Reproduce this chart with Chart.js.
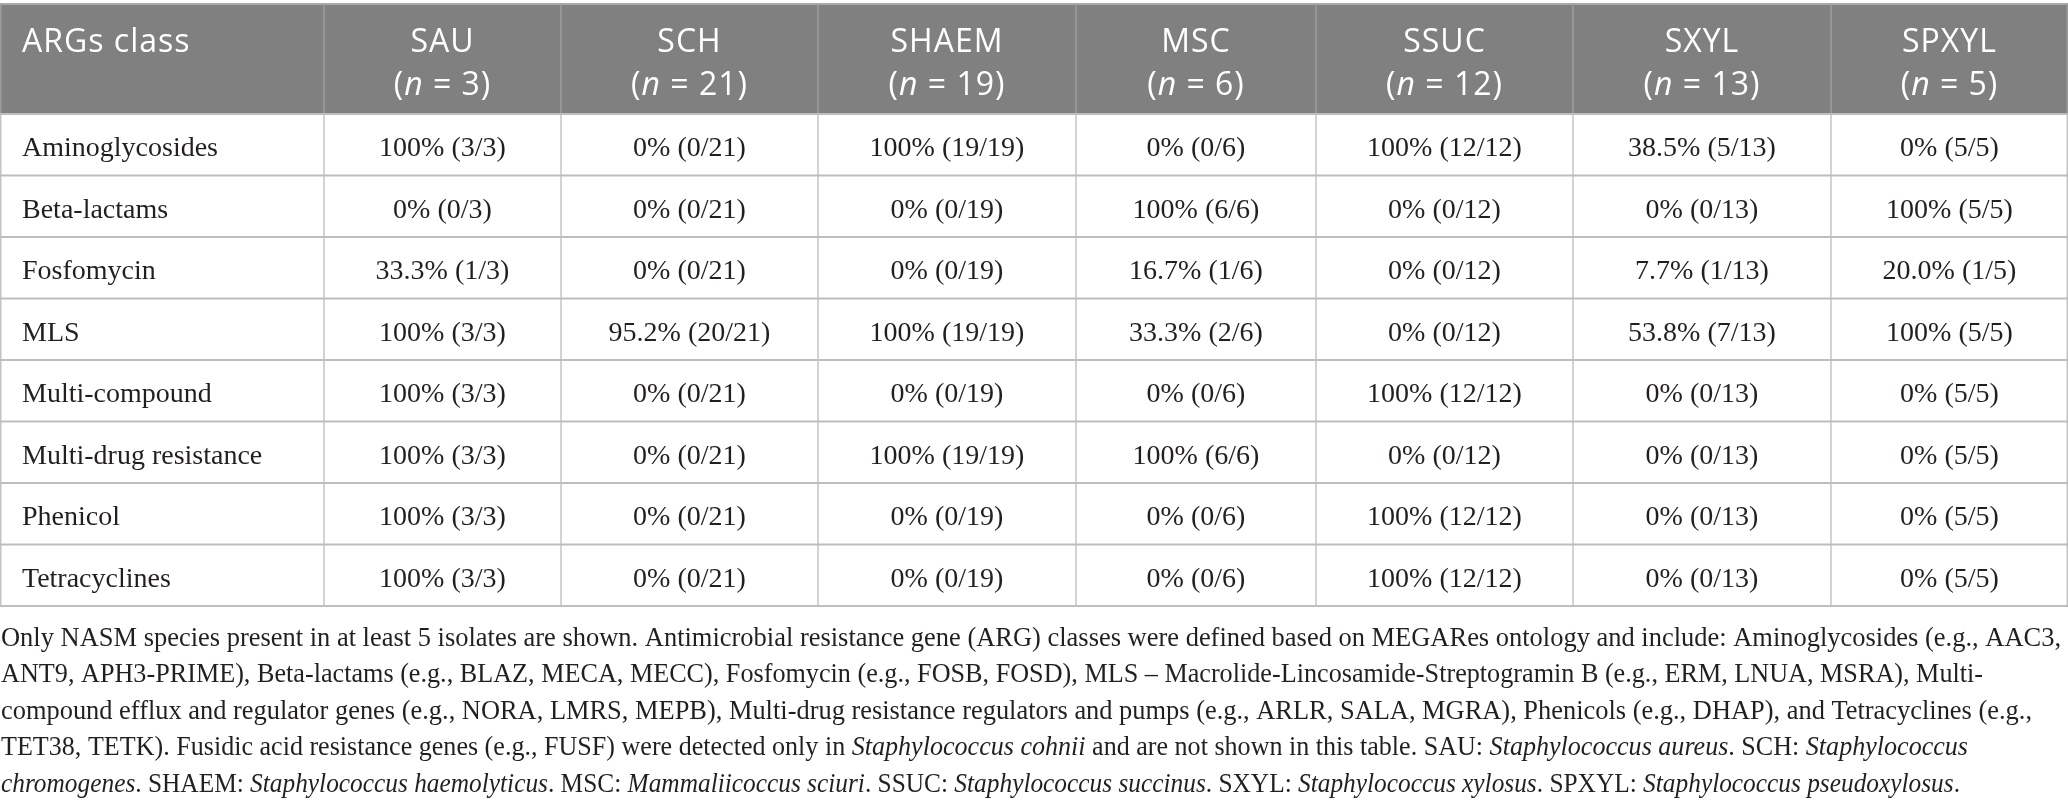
<!DOCTYPE html>
<html>
<head>
<meta charset="utf-8">
<script src="https://cdn.jsdelivr.net/npm/chart.js@4.4.1/dist/chart.umd.min.js"></script>
<style>
    html, body { margin: 0; padding: 0; background: #fff; }
    #wrap { width: 2068px; height: 808px; }
</style>
</head>
<body>
<div id="wrap"><canvas id="table" width="2068" height="808"></canvas></div>
<script>
// rows and columns of the table
var argClasses = ["Aminoglycosides", "Beta-lactams", "Fosfomycin", "MLS", "Multi-compound",
    "Multi-drug resistance", "Phenicol", "Tetracyclines"];
var species = ["SAU", "SCH", "SHAEM", "MSC", "SSUC", "SXYL", "SPXYL"];
var isolates = [3, 21, 19, 6, 12, 13, 5];

// % of isolates with the class, one array per row, in species order
var pctAminoglycosides = [100, 0, 100, 0, 100, 38.5, 0];
var pctBetaLactams = [0, 0, 0, 100, 0, 0, 100];
var pctFosfomycin = [33.3, 0, 0, 16.7, 0, 7.7, 20.0];
var pctMLS = [100, 95.2, 100, 33.3, 0, 53.8, 100];
var pctMultiCompound = [100, 0, 0, 0, 100, 0, 0];
var pctMultiDrug = [100, 0, 100, 100, 0, 0, 0];
var pctPhenicol = [100, 0, 0, 0, 100, 0, 0];
var pctTetracyclines = [100, 0, 0, 0, 100, 0, 0];

// positive isolates as printed (numerator of the fraction)
var posAminoglycosides = [3, 0, 19, 0, 12, 5, 5];
var posBetaLactams = [0, 0, 0, 6, 0, 0, 5];
var posFosfomycin = [1, 0, 0, 1, 0, 1, 1];
var posMLS = [3, 20, 19, 2, 0, 7, 5];
var posMultiCompound = [3, 0, 0, 0, 12, 0, 5];
var posMultiDrug = [3, 0, 19, 6, 0, 0, 5];
var posPhenicol = [3, 0, 0, 0, 12, 0, 5];
var posTetracyclines = [3, 0, 0, 0, 12, 0, 5];

var pctRows = [pctAminoglycosides, pctBetaLactams, pctFosfomycin, pctMLS, pctMultiCompound,
    pctMultiDrug, pctPhenicol, pctTetracyclines];
var posRows = [posAminoglycosides, posBetaLactams, posFosfomycin, posMLS, posMultiCompound,
    posMultiDrug, posPhenicol, posTetracyclines];

// footnote, one entry per printed line, *...* = italic
var footnote = [
    "Only NASM species present in at least 5 isolates are shown. Antimicrobial resistance gene (ARG) classes were defined based on MEGARes ontology and include: Aminoglycosides (e.g., AAC3,",
    "ANT9, APH3-PRIME), Beta-lactams (e.g., BLAZ, MECA, MECC), Fosfomycin (e.g., FOSB, FOSD), MLS \u2013 Macrolide-Lincosamide-Streptogramin B (e.g., ERM, LNUA, MSRA), Multi-",
    "compound efflux and regulator genes (e.g., NORA, LMRS, MEPB), Multi-drug resistance regulators and pumps (e.g., ARLR, SALA, MGRA), Phenicols (e.g., DHAP), and Tetracyclines (e.g.,",
    "TET38, TETK). Fusidic acid resistance genes (e.g., FUSF) were detected only in *Staphylococcus cohnii* and are not shown in this table. SAU: *Staphylococcus aureus*. SCH: *Staphylococcus*",
    "*chromogenes*. SHAEM: *Staphylococcus haemolyticus*. MSC: *Mammaliicoccus sciuri*. SSUC: *Staphylococcus succinus*. SXYL: *Staphylococcus xylosus*. SPXYL: *Staphylococcus pseudoxylosus*."
];

// layout
var colWidths = [324, 237, 257, 258, 240, 257, 258, 237];
var headerTop = 4;
var headerBottom = 114;
var tableBottom = 606;
var footBase = 646, footStep = 36.4;
var footWidths = [2060, 1982, 2031, 1967, 1959];

var colEdges = [0];
colWidths.forEach(function(w, i) { colEdges.push(colEdges[i] + w); });
var tableWidth = colEdges[colEdges.length - 1];

function fmtPct(v) {
    return (v === 0 || v === 100) ? v + "%" : v.toFixed(1) + "%";
}

function colCenter(c) {
    return (colEdges[c] + colEdges[c + 1]) / 2;
}

// draws "plain *italic* plain" on the alphabetic baseline, optionally squeezed to a width
function drawRuns(ctx, text, x, y, font, italicFont, align, fitWidth, spacing) {
    var parts = text.split("*");
    ctx.letterSpacing = spacing || "0px";
    var widths = parts.map(function(p, i) {
        ctx.font = i % 2 ? italicFont : font;
        return ctx.measureText(p).width;
    });
    var total = widths.reduce(function(a, b) { return a + b; }, 0);
    var sx = fitWidth ? fitWidth / total : 1;
    var start = align === "center" ? x - total * sx / 2 : x;

    ctx.save();
    ctx.translate(start, y);
    ctx.scale(sx, 1);
    ctx.textAlign = "left";
    ctx.textBaseline = "alphabetic";
    var cx = 0;
    parts.forEach(function(p, i) {
        ctx.font = i % 2 ? italicFont : font;
        ctx.fillText(p, cx, 0);
        cx += widths[i];
    });
    ctx.restore();
    ctx.letterSpacing = "0px";
}

var datasets = [{
    label: "ARGs class",
    data: argClasses.map(function(c) { return { x: colCenter(0), y: c, text: c }; })
}];
species.forEach(function(s, si) {
    datasets.push({
        label: s,
        data: argClasses.map(function(c, ri) {
            return {
                x: colCenter(si + 1),
                y: c,
                text: fmtPct(pctRows[ri][si]) + " (" + posRows[ri][si] + "/" + isolates[si] + ")"
            };
        })
    });
});

var headFont = "32px 'Open Sans'";
var headItalic = "italic 32px 'Open Sans'";
var bodyFont = "28px 'Liberation Serif'";
var footFont = "28px 'Liberation Serif'";
var footItalic = "italic 28px 'Liberation Serif'";

var tablePlugin = {
    id: "tableCells",
    beforeDraw: function(chart) {
        var ctx = chart.ctx;
        ctx.save();
        ctx.fillStyle = "#ffffff";
        ctx.fillRect(0, 0, chart.width, chart.height);
        ctx.fillStyle = "#808080";
        ctx.fillRect(0, headerTop, chart.width, headerBottom - headerTop);
        ctx.restore();
    },
    afterDatasetsDraw: function(chart) {
        var ctx = chart.ctx;
        var xs = chart.scales.x, ys = chart.scales.y;
        var area = chart.chartArea;
        var band = ys.getPixelForValue(1) - ys.getPixelForValue(0);

        ctx.save();

        // header grid
        ctx.strokeStyle = "#a9a9a9";
        ctx.lineWidth = 2;
        ctx.beginPath();
        ctx.moveTo(0, headerTop);
        ctx.lineTo(chart.width, headerTop);
        ctx.stroke();
        ctx.strokeStyle = "#9c9c9c";
        ctx.lineWidth = 1.5;
        colEdges.forEach(function(e) {
            var px = Math.min(Math.max(xs.getPixelForValue(e), 0.75), chart.width - 0.75);
            ctx.beginPath();
            ctx.moveTo(px, headerTop);
            ctx.lineTo(px, area.top);
            ctx.stroke();
        });

        // body grid
        ctx.strokeStyle = "#c4c4c4";
        ctx.lineWidth = 1.5;
        colEdges.forEach(function(e) {
            var px = Math.min(Math.max(xs.getPixelForValue(e), 0.75), chart.width - 0.75);
            ctx.beginPath();
            ctx.moveTo(px, area.top);
            ctx.lineTo(px, area.bottom);
            ctx.stroke();
        });
        ctx.strokeStyle = "#bdbdbd";
        ctx.lineWidth = 2;
        for (var r = 0; r <= argClasses.length; r++) {
            var py = ys.getPixelForValue(r) - band / 2;
            ctx.beginPath();
            ctx.moveTo(0, py);
            ctx.lineTo(chart.width, py);
            ctx.stroke();
        }

        // header text
        ctx.fillStyle = "#ffffff";
        drawRuns(ctx, "ARGs class", xs.getPixelForValue(colEdges[0]) + 22, 52, headFont, headItalic, "left", 0, "1px");
        species.forEach(function(s, si) {
            var cx = xs.getPixelForValue(colCenter(si + 1));
            drawRuns(ctx, s, cx, 52, headFont, headItalic, "center", 0, "1px");
            drawRuns(ctx, "(*n* = " + isolates[si] + ")", cx, 95, headFont, headItalic, "center", 0, "1px");
        });

        // cells
        ctx.fillStyle = "#231f20";
        chart.data.datasets.forEach(function(ds, di) {
            var meta = chart.getDatasetMeta(di);
            meta.data.forEach(function(pt, i) {
                var t = ds.data[i].text;
                if (di === 0) {
                    drawRuns(ctx, t, xs.getPixelForValue(colEdges[0]) + 22, pt.y + 11.5, bodyFont, bodyFont, "left");
                } else {
                    drawRuns(ctx, t, pt.x, pt.y + 11.5, bodyFont, bodyFont, "center");
                }
            });
        });

        // footnote
        footnote.forEach(function(line, i) {
            drawRuns(ctx, line, 1, footBase + i * footStep, footFont, footItalic, "left", footWidths[i]);
        });

        ctx.restore();
    }
};

var chart = new Chart(document.getElementById("table"), {
    type: "scatter",
    data: { datasets: datasets },
    options: {
        responsive: false,
        animation: false,
        devicePixelRatio: 1,
        layout: { padding: { top: headerBottom, bottom: 808 - tableBottom, left: 0, right: 0 } },
        elements: { point: { radius: 0, hoverRadius: 0 } },
        scales: {
            x: { type: "linear", min: 0, max: tableWidth, display: false },
            y: { type: "category", labels: argClasses, offset: true, display: false }
        },
        plugins: { legend: { display: false }, tooltip: { enabled: false } },
        events: []
    },
    plugins: [tablePlugin]
});
</script>
</body>
</html>
